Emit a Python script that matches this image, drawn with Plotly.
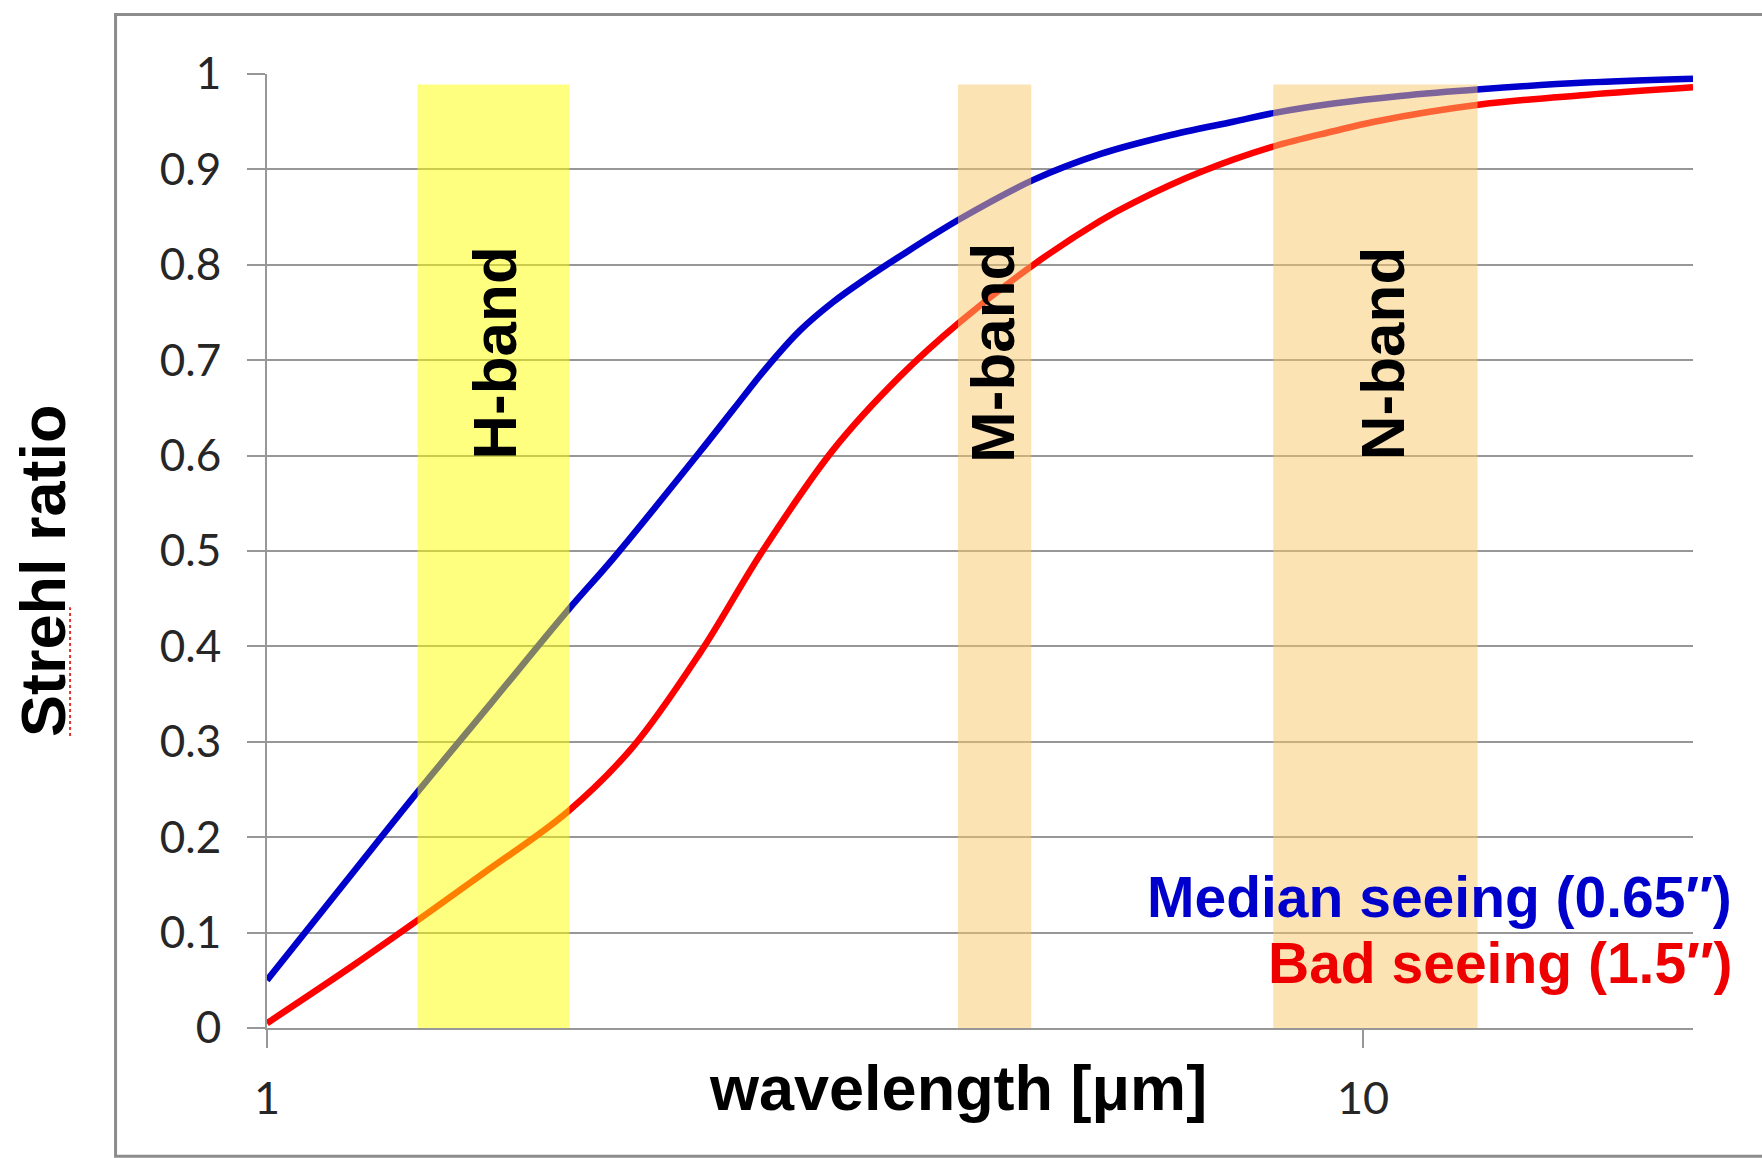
import math
import plotly.graph_objects as go

# ---- data ----
wavelength_median = [1.0, 1.2, 1.369, 1.6, 1.882, 2.069, 2.483, 2.662, 2.855, 3.063, 3.285,
                     3.524, 3.78, 4.287, 5.003, 5.754, 6.62, 7.613, 8.283, 9.396, 10.81,
                     12.79, 15.96, 20.0]
strehl_median = [0.05, 0.164, 0.246, 0.340, 0.438, 0.492, 0.604, 0.648, 0.692, 0.731, 0.761,
                 0.786, 0.809, 0.848, 0.889, 0.916, 0.935, 0.950, 0.959, 0.969, 0.977,
                 0.984, 0.991, 0.995]

wavelength_bad = [1.0, 1.2, 1.369, 1.575, 1.882, 2.158, 2.483, 2.836, 3.285, 3.78, 4.287,
                  5.003, 5.754, 6.17, 7.099, 8.283, 9.396, 10.24, 12.79, 15.96, 20.0]
strehl_bad = [0.005, 0.066, 0.112, 0.162, 0.227, 0.295, 0.393, 0.501, 0.606, 0.683, 0.740,
              0.800, 0.846, 0.865, 0.897, 0.924, 0.940, 0.950, 0.968, 0.978, 0.986]

band_names = ["H-band", "M-band", "N-band"]
band_start = [1.372, 4.27, 8.28]
band_end = [1.888, 4.98, 12.72]
band_label_x = [1.61, 4.585, 10.41]
band_colors = ["rgb(255,255,0)", "rgb(250,200,105)", "rgb(250,200,105)"]

y_ticks = [0, 0.1, 0.2, 0.3, 0.4, 0.5, 0.6, 0.7, 0.8, 0.9, 1]
y_tick_text = ["0", "0.1", "0.2", "0.3", "0.4", "0.5", "0.6", "0.7", "0.8", "0.9", "1"]
x_ticks = [1, 10]
x_tick_text = ["1", "10"]

series_names = ["Median seeing (0.65″)", "Bad seeing (1.5″)"]
series_colors = ["#0000CC", "#FF0000"]

# ---- figure ----
fig = go.Figure()
fig.add_trace(go.Scatter(x=wavelength_median, y=strehl_median, mode="lines",
                         line=dict(color=series_colors[0], width=6.5, shape="spline", smoothing=1.0),
                         name=series_names[0], showlegend=False))
fig.add_trace(go.Scatter(x=wavelength_bad, y=strehl_bad, mode="lines",
                         line=dict(color=series_colors[1], width=6.5, shape="spline", smoothing=1.0),
                         name=series_names[1], showlegend=False))

GRID = "#979797"
BOLD = "Liberation Sans, Arial, sans-serif"
TICKF = "Lato, Calibri, sans-serif"

shapes = []
for x0, x1, c in zip(band_start, band_end, band_colors):
    shapes.append(dict(type="rect", xref="x", yref="y", x0=x0, x1=x1, y0=-0.006, y1=0.989,
                       fillcolor=c, opacity=0.5, line=dict(width=0), layer="above"))
# outer chart-area frame
shapes.append(dict(type="rect", xref="paper", yref="paper", x0=-0.1062, x1=1.08, y0=-0.1345, y1=1.0625,
                   line=dict(color="#8c8c8c", width=3), fillcolor="rgba(0,0,0,0)", layer="below"))
# spell-check squiggle under "Strehl"
shapes.append(dict(type="line", xref="paper", yref="paper", x0=-0.1381, x1=-0.1381, y0=0.306, y1=0.441,
                   line=dict(color="#e03030", width=2, dash="dot")))

annotations = []
for name, lx in zip(band_names, band_label_x):
    annotations.append(dict(x=math.log10(lx), y=0.7075, xref="x", yref="y", text=name, showarrow=False,
                            textangle=-90, font=dict(family=BOLD, size=62, color="black", weight="bold"),
                            xanchor="center", yanchor="middle"))
annotations.append(dict(x=1.029, y=0.1372, xref="paper", yref="paper", text=series_names[0],
                        showarrow=False, xanchor="right", yanchor="middle",
                        font=dict(family=BOLD, size=57, color=series_colors[0], weight="bold")))
annotations.append(dict(x=1.029, y=0.068, xref="paper", yref="paper", text=series_names[1],
                        showarrow=False, xanchor="right", yanchor="middle",
                        font=dict(family=BOLD, size=57, color="#EE0000", weight="bold")))
annotations.append(dict(x=0.4846, y=-0.063, xref="paper", yref="paper", text="wavelength [μm]",
                        showarrow=False, xanchor="center", yanchor="middle",
                        font=dict(family=BOLD, size=63, color="black", weight="bold")))
annotations.append(dict(x=-0.1571, y=0.480, xref="paper", yref="paper", text="Strehl ratio",
                        showarrow=False, xanchor="center", yanchor="middle", textangle=-90,
                        font=dict(family=BOLD, size=63, color="black", weight="bold")))

fig.update_layout(
    width=1762, height=1158,
    margin=dict(l=267, r=69, t=74, b=130, pad=0),
    paper_bgcolor="white", plot_bgcolor="white",
    shapes=shapes, annotations=annotations,
    showlegend=False,
    xaxis=dict(type="log", range=[0, math.log10(20)], tickvals=x_ticks, ticktext=x_tick_text,
               showgrid=False, zeroline=False, showline=True, linecolor=GRID, linewidth=2,
               ticks="outside", ticklen=18, tickwidth=2, tickcolor=GRID,
               tickfont=dict(family=TICKF, size=45, color="#262626"), ticklabelstandoff=12),
    yaxis=dict(range=[0, 1], tickvals=y_ticks, ticktext=y_tick_text,
               showgrid=True, gridcolor=GRID, gridwidth=2, zeroline=False,
               showline=True, linecolor=GRID, linewidth=2,
               ticks="outside", ticklen=18, tickwidth=2, tickcolor=GRID,
               tickfont=dict(family=TICKF, size=44, color="#262626"), ticklabelstandoff=17),
)

fig.write_html("out.html")
